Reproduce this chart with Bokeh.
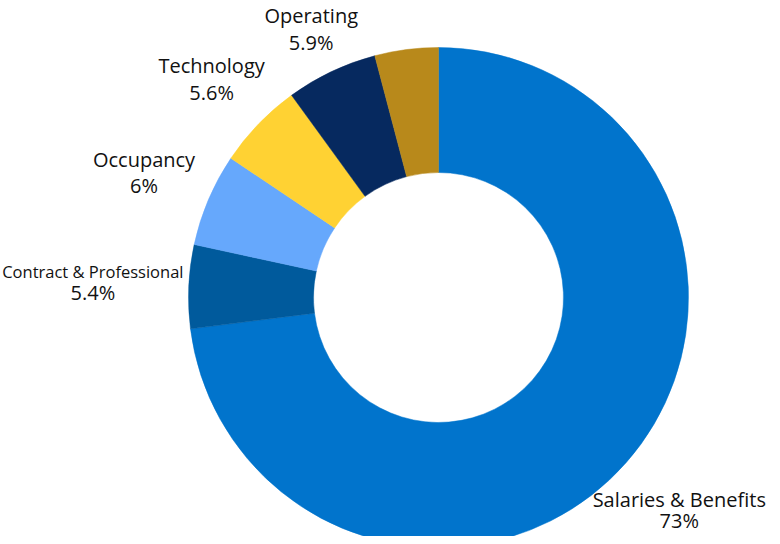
import math
from bokeh.plotting import figure
from bokeh.models import Range1d, ColumnDataSource
from bokeh.core.properties import value
from bokeh.embed import file_html
from bokeh.resources import INLINE

# ---- data ----
categories = ["Salaries & Benefits", "Contract & Professional", "Occupancy",
              "Technology", "Operating", "Other"]
percent = [73.0, 5.4, 6.0, 5.6, 5.9, 4.1]
pct_labels = ["73%", "5.4%", "6%", "5.6%", "5.9%", ""]
colors = ["#0174CC", "#005A9C", "#66A8FC", "#FFD233", "#06295F", "#B8891B"]

# ---- layout ----
W, H = 772, 536
CX, CY = 438, H - 297
R_OUT, R_IN = 250, 125
label_radius = [321, 346, 320, 315, 297, None]
label_gap = [21, 21, 26, 26.5, 26.5, 0]
name_size = ["20px", "16.5px", "20px", "20px", "20px", None]

total = sum(percent)
starts, ends, mids = [], [], []
acc = 0.0
for v in percent:
    a0 = math.pi / 2 - 2 * math.pi * acc / total
    acc += v
    a1 = math.pi / 2 - 2 * math.pi * acc / total
    starts.append(a0)
    ends.append(a1)
    mids.append((a0 + a1) / 2)

p = figure(width=W, height=H, output_backend="svg", toolbar_location=None,
           x_range=Range1d(0, W), y_range=Range1d(0, H),
           min_border=0)
p.axis.visible = False
p.grid.visible = False
p.outline_line_color = None
p.background_fill_color = "white"
p.border_fill_color = "white"

src = ColumnDataSource(dict(start=starts, end=ends, color=colors))
p.annular_wedge(x=CX, y=CY, inner_radius=R_IN, outer_radius=R_OUT,
                start_angle="end", end_angle="start", direction="anticlock",
                color="color", line_color="color", line_width=0.5, source=src)

tx, ty, tt, ts = [], [], [], []
for name, lab, a, r, g, fs in zip(categories, pct_labels, mids, label_radius,
                                   label_gap, name_size):
    if r is None:
        continue
    cx = CX + r * math.cos(a)
    cy = CY + r * math.sin(a)
    tx += [cx, cx]
    ty += [cy + g / 2, cy - g / 2]
    tt += [name, lab]
    ts += [fs, "20px"]

lsrc = ColumnDataSource(dict(x=tx, y=ty, text=tt, size=ts))
p.text(x="x", y="y", text="text", text_font_size="size", source=lsrc,
       text_align="center", text_baseline="middle",
       text_font=value("Open Sans"), text_color="#111111")

open("out.html", "w").write(file_html(p, INLINE))
